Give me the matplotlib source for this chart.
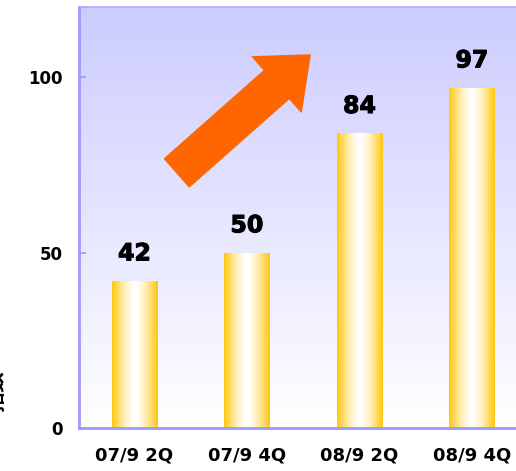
import numpy as np
import matplotlib
matplotlib.use("Agg")
from matplotlib import pyplot as plt
from matplotlib.patches import FancyArrowPatch
import matplotlib.patheffects as pe

# chart data
periods = ["07/9 2Q", "07/9 4Q", "08/9 2Q", "08/9 4Q"]
values = [42, 50, 84, 97]
y_ticks = [0, 50, 100]
y_label = "指数"

plt.rcParams["font.family"] = ["DejaVu Sans", "Noto Sans CJK JP"]

fig = plt.figure(figsize=(5.16, 4.71), dpi=100)
ax = fig.add_axes([0.153, 0.0913, 0.847, 0.894])

x = np.arange(len(periods))
ax.set_xlim(-0.493, 3.391)
ax.set_ylim(0, 120)

# background: lavender at top fading to white
bg = np.linspace(0, 1, 256).reshape(-1, 1)
top = np.array([204, 204, 255]) / 255
bottom = np.array([255, 255, 255]) / 255
bg_rgb = bottom + (top - bottom) * bg[..., None]
ax.imshow(bg_rgb, extent=[-0.493, 3.391, 0, 120], origin="lower",
          aspect="auto", zorder=0, interpolation="bicubic")

# bars with horizontal gold-white-gold gradient
bars = ax.bar(x, values, width=0.40, color="none", edgecolor="none", zorder=2)
t = np.linspace(0, 1, 200)
w = np.clip(np.abs(t - 0.5) * 2, 0, 1) ** 1.5
gold = np.array([255, 198, 10]) / 255
white = np.array([1.0, 1.0, 1.0])
grad = (white + (gold - white) * w[:, None])[None, :, :]
for b in bars:
    x0, y0 = b.get_x(), b.get_y()
    im = ax.imshow(grad, extent=[x0, x0 + b.get_width(), y0, y0 + b.get_height()],
                   aspect="auto", zorder=2, interpolation="bilinear")
    im.set_clip_path(b)

# value labels
for xi, v in zip(x, values):
    ax.annotate(str(v), (xi, v), xytext=(0, 11), textcoords="offset points",
                ha="center", va="bottom", fontsize=17, fontweight="bold",
                color="black", zorder=4,
                path_effects=[pe.withStroke(linewidth=0.8, foreground="black")])

# big arrow
arrow = FancyArrowPatch((0.224, 0.606), (0.529, 0.886), transform=ax.transAxes,
                        arrowstyle="simple,head_length=3.2,head_width=5.3,tail_width=2.7",
                        mutation_scale=10, color="#FF6600", shrinkA=0, shrinkB=0,
                        zorder=5)
ax.add_patch(arrow)

# axes styling
ax.set_xticks(x)
ax.set_xticklabels(periods, fontsize=13, fontweight="bold")
ax.set_yticks(y_ticks)
ax.set_yticklabels([str(v) for v in y_ticks], fontsize=12, fontweight="bold")
ax.tick_params(axis="x", length=0, pad=13)
ax.tick_params(axis="y", direction="in", length=5, width=1.2, color="#9999FF", pad=12)
for side in ["left", "bottom"]:
    ax.spines[side].set_color("#9999FF")
    ax.spines[side].set_linewidth(2)
ax.spines["top"].set_color("#AAAAFF")
ax.spines["top"].set_linewidth(1.2)
ax.spines["right"].set_visible(False)

fig.text(-0.008, 0.17, y_label, rotation=90, ha="center", va="center",
         fontsize=15, fontweight="bold", family=["Noto Sans CJK JP", "DejaVu Sans"])

fig.savefig("out.png", dpi=100)
